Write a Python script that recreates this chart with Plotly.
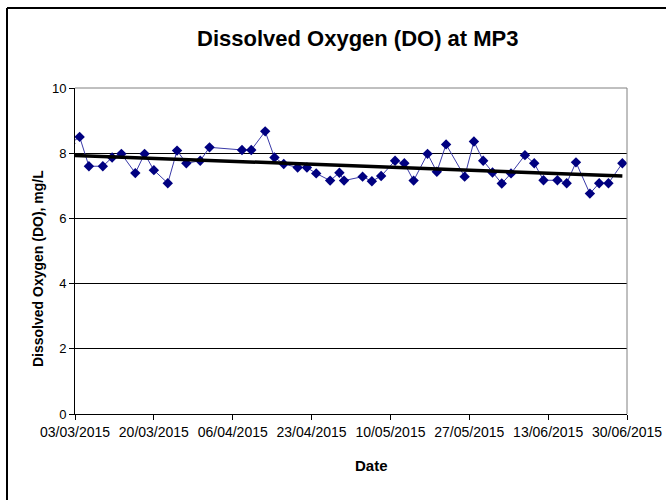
import numpy as np
import pandas as pd
import plotly.graph_objects as go

dates = ["2015-03-02", "2015-03-04", "2015-03-06", "2015-03-09", "2015-03-11", "2015-03-13",
         "2015-03-16", "2015-03-18", "2015-03-20", "2015-03-23", "2015-03-25",
         "2015-03-27", "2015-03-30", "2015-04-01", "2015-04-08", "2015-04-10",
         "2015-04-13", "2015-04-15", "2015-04-17", "2015-04-20", "2015-04-22",
         "2015-04-24", "2015-04-27", "2015-04-29", "2015-04-30", "2015-05-04",
         "2015-05-06", "2015-05-08", "2015-05-11", "2015-05-13", "2015-05-15",
         "2015-05-18", "2015-05-20", "2015-05-22", "2015-05-26", "2015-05-28",
         "2015-05-30", "2015-06-01", "2015-06-03", "2015-06-05", "2015-06-08",
         "2015-06-10", "2015-06-12", "2015-06-15", "2015-06-17", "2015-06-19",
         "2015-06-22", "2015-06-24", "2015-06-26", "2015-06-29"]
do_values = [8.3, 8.5, 7.6, 7.6, 7.87, 7.98, 7.39, 7.98, 7.48, 7.08, 8.08,
             7.69, 7.77, 8.18, 8.1, 8.1, 8.67, 7.87, 7.67, 7.56, 7.56,
             7.38, 7.16, 7.4, 7.16, 7.28, 7.14, 7.3, 7.77, 7.69, 7.16,
             7.98, 7.43, 8.27, 7.28, 8.36, 7.77, 7.41, 7.07, 7.38, 7.94,
             7.69, 7.17, 7.17, 7.08, 7.72, 6.76, 7.08, 7.08, 7.69]
x_tick_start = "2015-03-03"
x_axis_end = "2015-06-30"
y_ticks = [0, 2, 4, 6, 8, 10]

d = pd.to_datetime(dates)
t = (d - d[0]).days.values.astype(float)
coef = np.polyfit(t, np.array(do_values), 1)
trend_t = np.array([t[0], t[-1]])
trend_x = [d[0], d[-1]]
trend_y = np.polyval(coef, trend_t)

W, H = 666, 500
L, R, T, B = 75, 39, 88, 86
PW, PH = W - L - R, H - T - B

def px(x):
    return (x - L) / PW

def py(y):
    return (H - B - y) / PH

fig = go.Figure()
fig.add_trace(go.Scatter(
    x=d, y=do_values, mode="lines+markers",
    line=dict(color="#3a3aa8", width=1),
    marker=dict(symbol="diamond", size=8, color="#000080"),
    showlegend=False, hoverinfo="x+y"))
fig.add_trace(go.Scatter(
    x=trend_x, y=trend_y, mode="lines",
    line=dict(color="black", width=3.5), showlegend=False))

font = "Liberation Sans, Arial, sans-serif"
fig.update_layout(
    width=W, height=H,
    margin=dict(l=L, r=R, t=T, b=B, autoexpand=False),
    paper_bgcolor="white", plot_bgcolor="white",
    font=dict(family=font, color="black", size=12),
    xaxis=dict(
        type="date", automargin=False,
        range=[x_tick_start, x_axis_end],
        tick0=x_tick_start, dtick=17 * 86400000,
        tickformat="%d/%m/%Y",
        showgrid=False, showline=True, linecolor="black", linewidth=1,
        mirror=False, ticks="outside", ticklen=5, tickcolor="black",
        tickfont=dict(size=14, family=font),
    ),
    yaxis=dict(
        automargin=False,
        range=[0, 10], tickvals=y_ticks,
        showgrid=True, gridcolor="black", gridwidth=1,
        showline=True, linecolor="black", linewidth=1,
        ticks="outside", ticklen=5, tickcolor="black",
        tickfont=dict(size=13, family=font),
        zeroline=False,
    ),
    annotations=[
        dict(text="<b>Dissolved Oxygen (DO) at MP3</b>", xref="paper", yref="paper",
             x=px(358), y=py(38), xanchor="center", yanchor="middle", showarrow=False,
             font=dict(size=22, family=font, color="black")),
        dict(text="<b>Date</b>", xref="paper", yref="paper",
             x=px(372), y=py(465), xanchor="center", yanchor="middle", showarrow=False,
             font=dict(size=15, family=font, color="black")),
        dict(text="<b>Dissolved Oxygen (DO), mg/L</b>", xref="paper", yref="paper",
             x=px(38), y=py(269), xanchor="center", yanchor="middle", showarrow=False,
             textangle=-90, font=dict(size=14, family=font, color="black")),
    ],
    shapes=[
        dict(type="line", xref="paper", yref="paper", x0=0, x1=1, y0=1, y1=1,
             line=dict(color="#808080", width=1)),
        dict(type="line", xref="paper", yref="paper", x0=1, x1=1, y0=0, y1=1,
             line=dict(color="#808080", width=1)),
        dict(type="line", xref="paper", yref="paper", x0=px(7), x1=px(700),
             y0=py(8), y1=py(8), line=dict(color="black", width=2)),
        dict(type="line", xref="paper", yref="paper", x0=px(7), x1=px(7),
             y0=py(520), y1=py(8), line=dict(color="black", width=2)),
    ],
)

fig.write_html("out.html", config={"displayModeBar": False},
               post_script="document.body.style.margin='0px';document.body.style.padding='0px';")
